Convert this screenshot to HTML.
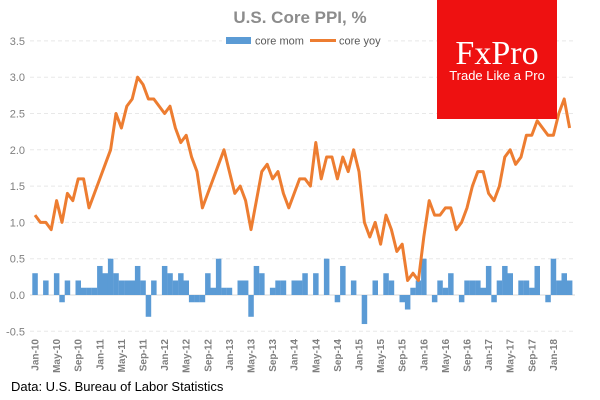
<!DOCTYPE html>
<html><head><meta charset="utf-8"><style>
body{margin:0;background:#fff;}
svg{display:block;font-family:"Liberation Sans",sans-serif;}
</style></head><body>
<svg id="c" width="600" height="400">
<text x="300" y="23" text-anchor="middle" font-size="17" font-weight="bold" fill="#8c8c8c">U.S. Core PPI, %</text>
<g id="grid"></g><g id="bars"></g><g id="line"></g><g id="xl"></g><g id="yl"></g>
<g>
<rect x="222" y="33" width="166" height="15" fill="#fff"/>
<rect x="226" y="37" width="25" height="7" fill="#5b9bd5"/>
<text x="255" y="44.5" font-size="11" fill="#595959">core mom</text>
<line x1="310" y1="40.5" x2="336" y2="40.5" stroke="#ed7d31" stroke-width="3"/>
<text x="339" y="44.5" font-size="11" fill="#595959">core yoy</text>
</g>
<g>
<rect x="437" y="0" width="120" height="119" fill="#ee1111"/>
<text x="497" y="64" text-anchor="middle" font-family="Liberation Serif,serif" font-size="34" fill="#fff">FxPro</text>
<text x="497" y="80" text-anchor="middle" font-size="13" fill="#fff">Trade Like a Pro</text>
</g>
<text x="11" y="391" font-size="13" fill="#000">Data: U.S. Bureau of Labor Statistics</text>
</svg>
<script>
const months=["Jan","Feb","Mar","Apr","May","Jun","Jul","Aug","Sep","Oct","Nov","Dec"];
const coreYoy=[1.1,1.0,1.0,0.9,1.3,1.0,1.4,1.3,1.6,1.6,1.2,1.4,1.6,1.8,2.0,2.5,2.3,2.6,2.7,3.0,2.9,2.7,2.7,2.6,2.5,2.6,2.3,2.1,2.2,1.9,1.7,1.2,1.4,1.6,1.8,2.0,1.7,1.4,1.5,1.3,0.9,1.3,1.7,1.8,1.6,1.7,1.4,1.2,1.4,1.6,1.6,1.5,2.1,1.6,1.9,1.9,1.6,1.9,1.7,2.0,1.7,1.0,0.8,1.0,0.7,1.1,0.9,0.6,0.7,0.2,0.3,0.2,0.8,1.3,1.1,1.1,1.2,1.2,0.9,1.0,1.2,1.5,1.7,1.7,1.4,1.3,1.5,1.9,2.0,1.8,1.9,2.2,2.2,2.4,2.3,2.2,2.2,2.5,2.7,2.3];
const coreMom=[0.3,0,0.2,0,0.3,-0.1,0.2,0,0.2,0.1,0.1,0.1,0.4,0.3,0.5,0.3,0.2,0.2,0.2,0.4,0.2,-0.3,0.2,0,0.4,0.3,0.2,0.3,0.2,-0.1,-0.1,-0.1,0.3,0.1,0.5,0.1,0.1,0,0.2,0.2,-0.3,0.4,0.3,0,0.1,0.2,0.2,0,0.2,0.2,0.3,0,0.3,0,0.5,0,-0.1,0.4,0,0.2,0,-0.4,0,0.2,0,0.3,0.2,0,-0.1,-0.2,0.1,0.2,0.5,0,-0.1,0.2,0.1,0.3,0,-0.1,0.2,0.2,0.2,0.1,0.4,-0.1,0.2,0.4,0.3,0,0.2,0.2,0.1,0.4,0,-0.1,0.5,0.2,0.3,0.2];
const yTicks=[-0.5,0,0.5,1,1.5,2,2.5,3,3.5];
const NS="http://www.w3.org/2000/svg";
const step=5.4,x0=32.3;
const xc=i=>x0+step*(i+0.5);
const y=v=>295-v*72.6;
function mk(t,a,p){const e=document.createElementNS(NS,t);for(const k in a)e.setAttribute(k,a[k]);document.getElementById(p).appendChild(e);return e;}
yTicks.forEach(v=>{
 const g=mk('line',{x1:30,x2:575,y1:y(v),y2:y(v),stroke:v===0?'#d9d9d9':'#e8e8e8','stroke-width':1,'stroke-dasharray':v===0?'none':'4 3'},'grid');
 
 
 const t=mk('text',{x:25,y:y(v)+4,'text-anchor':'end','font-size':11,fill:'#7f7f7f'},'yl');
 t.textContent=v.toFixed(1);
 
 
});
coreMom.forEach((v,i)=>{
 const r=mk('rect',{x:xc(i)-2.7,width:5.5,y:Math.min(y(v),y(0)),height:Math.abs(y(v)-y(0)),fill:'#5b9bd5'},'bars');
 
 
});
const p=mk('polyline',{points:coreYoy.map((v,i)=>xc(i)+','+y(v)).join(' '),fill:'none',stroke:'#ed7d31','stroke-width':3,'stroke-linejoin':'round'},'line');


for(let i=0;i<coreYoy.length;i+=4){
 const lbl=months[i%12]+'-'+String(10+Math.floor(i/12));
 const t=mk('text',{transform:`translate(${xc(i)+3.5},339) rotate(-90)`,'text-anchor':'end','font-size':10,'font-weight':'bold',fill:'#7f7f7f'},'xl');
 t.textContent=lbl;
 
 
}
</script>
</body></html>
